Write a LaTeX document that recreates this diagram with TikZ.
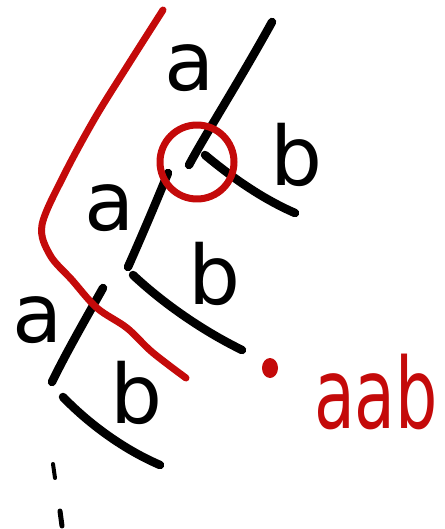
\documentclass[tikz,border=0pt]{standalone}
\usepackage{fontspec}
\setmainfont{DejaVu Sans}
\definecolor{redink}{RGB}{196,10,10}
\begin{document}
\begin{tikzpicture}[x=1pt,y=-1pt,
  ink/.style={line width=8.5pt,line cap=round,line join=round,black},
  rink/.style={line width=7pt,line cap=round,line join=round,redink},
  lbl/.style={inner sep=0pt,font=\fontsize{82}{82}\selectfont},
  rlbl/.style={inner sep=0pt,font=\fontsize{98}{98}\selectfont,text=redink,transform shape,xscale=0.68}]
\useasboundingbox (0,0) rectangle (444,529);
% main trunk segments
\draw[ink] (272,22) .. controls (240,80) and (205,135) .. (189,165);
\draw[ink] (168,173) .. controls (155,205) and (140,240) .. (128,267);
\draw[ink] (103,288) .. controls (85,320) and (65,355) .. (52,382);
% b branches
\draw[ink] (205,155) .. controls (235,180) and (265,200) .. (295,213);
\draw[ink] (133,275) .. controls (165,305) and (205,332) .. (242,350);
\draw[ink] (63,397) .. controls (90,425) and (125,450) .. (160,465);
% continuation dots
\draw[line width=4pt,line cap=round] (53,464) -- (55,478);
\draw[line width=5pt,line cap=round] (60,511) -- (62,526);
% labels
\node[lbl] (a1) at (190,68) {a};
\node[lbl] (a2) at (110,208) {a};
\node[lbl] (a3) at (38,320) {a};
\node[lbl] (b1) at (297,155) {b};
\node[lbl] (b2) at (215,274) {b};
\node[lbl] (b3) at (137,393) {b};
% red annotations
\draw[rink] (197,162) circle[radius=37];
\draw[rink] plot[smooth,tension=0.55] coordinates {(163,10) (128,65) (95,118) (64,175) (42,225) (50,255) (72,280) (97,308) (127,328) (152,352) (186,378)};
\fill[redink] (270,368) ellipse[x radius=8,y radius=10];
\node[rlbl] (aab) at (376,392) {aab};
\end{tikzpicture}
\end{document}
